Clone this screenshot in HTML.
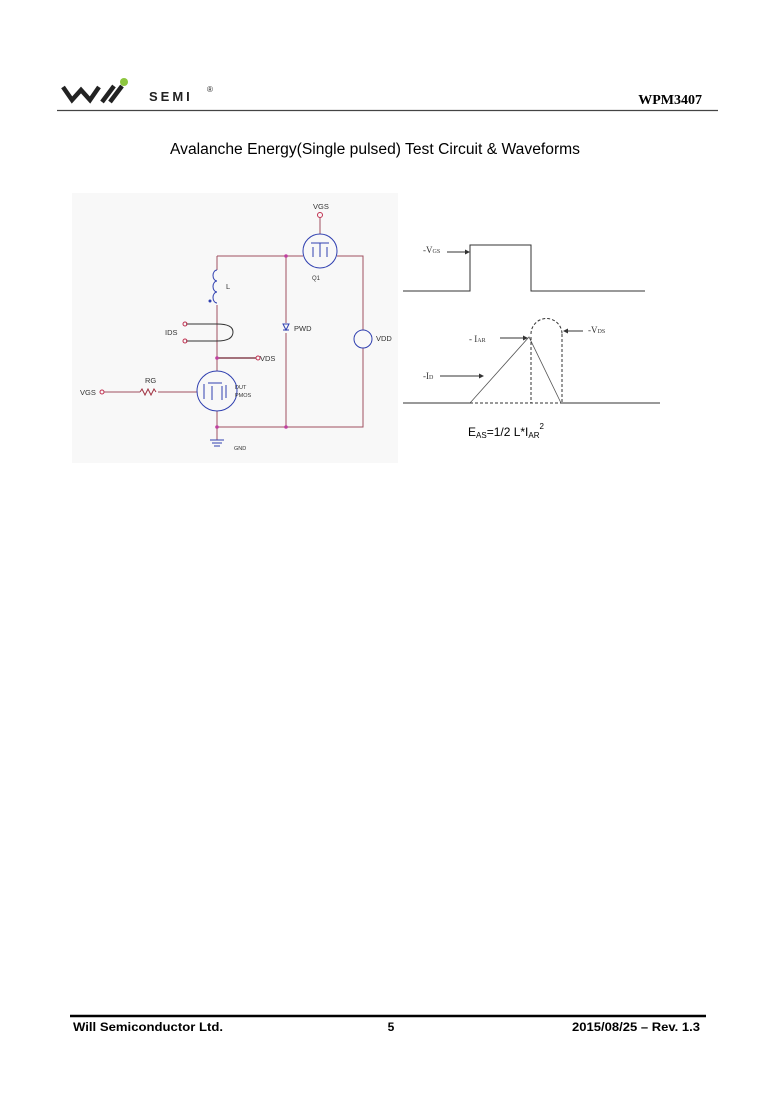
<!DOCTYPE html>
<html><head><meta charset="utf-8"><style>
html,body{margin:0;padding:0;background:#fff;}
body{width:778px;height:1101px;position:relative;overflow:hidden;font-family:"Liberation Sans",sans-serif;}
</style></head><body>
<svg width="778" height="1101" viewBox="0 0 778 1101" xmlns="http://www.w3.org/2000/svg" style="position:absolute;left:0;top:0">
<path d="M63,87 L72,100 L81,90 L90,100 L99,87" fill="none" stroke="#222" stroke-width="4.5"/>
<path d="M102,102 L114,86 M110,102 L122,86" stroke="#222" stroke-width="4.5"/>
<circle cx="124" cy="82" r="4" fill="#8dc63f"/>
<text x="149" y="101" font-size="13" font-weight="bold" letter-spacing="3" fill="#222">SEMI</text>
<text x="207" y="92" font-size="8" fill="#222">®</text>
<text x="702" y="104" font-family="Liberation Serif" font-size="14" font-weight="bold" text-anchor="end">WPM3407</text>
<line x1="57" y1="110.5" x2="718" y2="110.5" stroke="#444" stroke-width="1.2"/>
<text x="170" y="154" font-size="15.5" textLength="410" lengthAdjust="spacingAndGlyphs">Avalanche Energy(Single pulsed) Test Circuit &amp; Waveforms</text>

<rect x="72" y="193" width="326" height="270" fill="#f8f8f8"/>
<g stroke="#a05060" stroke-width="1" fill="none">
<polyline points="217,256 303,256"/>
<polyline points="337,256 363,256 363,330"/>
<polyline points="363,348 363,427 217,427"/>
<line x1="217" y1="256" x2="217" y2="270"/>
<line x1="217" y1="305" x2="217" y2="371"/>
<line x1="217" y1="411" x2="217" y2="440"/>
<line x1="286" y1="256" x2="286" y2="323"/>
<line x1="286" y1="333" x2="286" y2="427"/>
<line x1="320" y1="218" x2="320" y2="234"/>
<line x1="104" y1="392" x2="140" y2="392"/>
<line x1="158" y1="392" x2="197" y2="392"/>
</g>
<line x1="217" y1="358" x2="256" y2="358" stroke="#702030" stroke-width="1.2"/>
<g fill="#c040a0"><circle cx="286" cy="256" r="1.8"/><circle cx="217" cy="358" r="1.8"/><circle cx="217" cy="427" r="1.8"/><circle cx="286" cy="427" r="1.8"/></g>
<g stroke="#3040b0" stroke-width="1" fill="none">
<path d="M217,270 a4,5.5 0 0 0 0,11 a4,5.5 0 0 0 0,11 a4,5.5 0 0 0 0,11"/>
<circle cx="320" cy="251" r="17"/>
<circle cx="217" cy="391" r="20"/>
<path d="M283,324 h6 l-3,6 z M283,330 h6"/>
<circle cx="363" cy="339" r="9"/>
<path d="M311,243 h18 M313,247 v10 M327,247 v10 M320,243 v14 M204,384 v15 M208,383 h14 M212,386 v14 M222,386 v14 M226,385 v13"/>
<path d="M210,440 h14 M212,443 h10 M214,446 h6"/>
</g>
<path d="M140,392 l2,-3 l3,6 l3,-6 l3,6 l3,-6 l2,3" stroke="#a03040" fill="none"/>
<path d="M186,324 h31 q16,0 16,8 q0,9 -16,9 h-31" stroke="#333" fill="none"/>
<g fill="none" stroke="#c03050"><circle cx="185" cy="324" r="2"/><circle cx="185" cy="341" r="2"/><circle cx="258" cy="358" r="2"/><circle cx="320" cy="215" r="2.5"/><circle cx="102" cy="392" r="2"/></g>
<circle cx="210" cy="301" r="1.5" fill="#3040b0"/>
<g font-size="7.5" fill="#333">
<text x="313" y="209">VGS</text>
<text x="226" y="289">L</text>
<text x="165" y="335">IDS</text>
<text x="260" y="361">VDS</text>
<text x="294" y="331">PWD</text>
<text x="376" y="341">VDD</text>
<text x="145" y="383">RG</text>
<text x="80" y="395">VGS</text>
<text x="312" y="280" font-size="6">Q1</text>
<text x="235" y="389" font-size="5.5">DUT</text>
<text x="235" y="397" font-size="5.5">PMOS</text>
<text x="234" y="450" font-size="5.5">GND</text>
</g>

<g stroke="#333" stroke-width="1" fill="none">
<polyline points="403,291 470,291 470,245 531,245 531,291 645,291"/>
<line x1="403" y1="403" x2="470" y2="403"/>
<line x1="561" y1="403" x2="660" y2="403"/>
<polyline points="470,403 529,337 561,403" stroke="#555" stroke-width="0.8"/>
</g>
<g stroke="#333" stroke-width="1" fill="none" stroke-dasharray="3,2">
<line x1="470" y1="403" x2="561" y2="403"/>
<line x1="531" y1="337" x2="531" y2="403"/>
<path d="M531,334 A15.5,15.5 0 0 1 562,334"/>
<line x1="562" y1="334" x2="562" y2="403"/>
</g>
<g stroke="#333" stroke-width="1">
<line x1="447" y1="252" x2="466" y2="252"/>
<line x1="500" y1="338" x2="524" y2="338"/>
<line x1="440" y1="376" x2="480" y2="376"/>
<line x1="566" y1="331" x2="583" y2="331"/>
</g>
<g fill="#333">
<path d="M470,252 l-5,-2.5 v5z"/><path d="M528,338 l-5,-2.5 v5z"/><path d="M484,376 l-5,-2.5 v5z"/><path d="M563,331 l5,-2.5 v5z"/>
</g>
<g font-family="Liberation Serif" font-size="9" fill="#333">
<text x="423" y="253">-V<tspan font-size="6">GS</tspan></text>
<text x="469" y="342">- I<tspan font-size="6">AR</tspan></text>
<text x="423" y="379">-I<tspan font-size="6">D</tspan></text>
<text x="588" y="333">-V<tspan font-size="6">DS</tspan></text>
</g>
<text x="468" y="436" font-size="12">E<tspan font-size="8" dy="2">AS</tspan><tspan dy="-2">=1/2 L*I</tspan><tspan font-size="8" dy="2">AR</tspan><tspan font-size="8" dy="-9">2</tspan></text>

<line x1="70" y1="1016" x2="706" y2="1016" stroke="#000" stroke-width="2.5"/>
<g font-size="12" font-weight="bold">
<text x="73" y="1031" textLength="150" lengthAdjust="spacingAndGlyphs">Will Semiconductor Ltd.</text>
<text x="391" y="1031" text-anchor="middle">5</text>
<text x="572" y="1031" textLength="128" lengthAdjust="spacingAndGlyphs">2015/08/25 – Rev. 1.3</text>
</g>
</svg>
</body></html>
